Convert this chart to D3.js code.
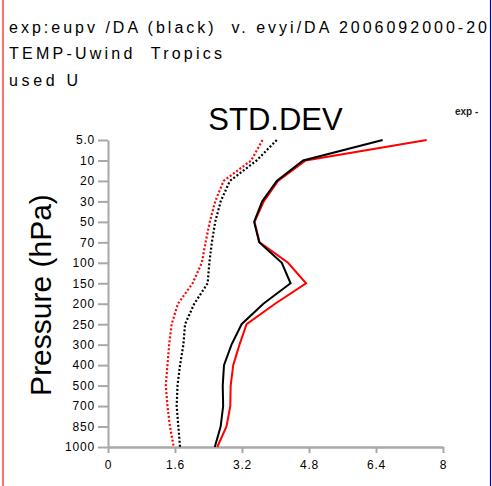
<!DOCTYPE html>
<html>
<head>
<meta charset="utf-8">
<script src="https://cdnjs.cloudflare.com/ajax/libs/d3/7.8.5/d3.min.js"></script>
<style>
  html, body { margin: 0; padding: 0; background: #fff; }
  svg { display: block; }
  text { font-family: "Liberation Sans", Arial, Helvetica, sans-serif; }
  .hdr { white-space: pre; }
</style>
</head>
<body>
<svg id="chart" width="492" height="486"></svg>
<script>
// ---- data ----
const levels = ["5.0","10","20","30","50","70","100","150","200","250","300","400","500","700","850","1000"];
const expStd   = [6.56,4.66,4.03,3.68,3.49,3.61,4.15,4.36,3.71,3.19,2.95,2.77,2.74,2.75,2.69,2.55]; // black solid
const ctlStd   = [7.61,4.72,4.06,3.72,3.50,3.62,4.30,4.73,3.99,3.31,3.14,2.99,2.93,2.92,2.83,2.61]; // red solid
const expOther = [4.03,3.55,2.91,2.69,2.56,2.48,2.42,2.38,2.06,1.84,1.80,1.72,1.66,1.64,1.68,1.72]; // black dotted
const ctlOther = [3.69,3.42,2.76,2.56,2.43,2.33,2.24,2.02,1.67,1.52,1.46,1.42,1.38,1.42,1.48,1.57]; // red dotted
const xTicks = [0, 1.6, 3.2, 4.8, 6.4, 8];
const xTickLabels = ["0", "1.6", "3.2", "4.8", "6.4", "8"];
const headerLines = ["exp:eupv /DA (black)  v. evyi/DA 2006092000-20", "TEMP-Uwind  Tropics", "used U"];

const svg = d3.select("#chart");
const W = 492, H = 486;

const x = d3.scaleLinear().domain([0, 8]).range([108, 443]);
const y = d3.scalePoint().domain(levels).range([140, 447]);

const page = svg.append("g");

// header
const hdrY = [33, 59, 86];
const hdrLen = [478, 213, 69];
headerLines.forEach((t, i) => {
  page.append("text").attr("class", "hdr").attr("x", 9).attr("y", hdrY[i])
    .attr("font-size", 16).attr("textLength", hdrLen[i]).attr("lengthAdjust", "spacing")
    .attr("fill", "#000").text(t);
});

// title
page.append("text").attr("x", 275.5).attr("y", 130).attr("text-anchor", "middle")
  .attr("font-size", 31).attr("fill", "#000").text("STD.DEV");

// legend fragment at top right
page.append("text").attr("x", 455).attr("y", 115)
  .attr("font-size", 10).attr("font-weight", "bold").attr("fill", "#222").text("exp -");

// y label
page.append("text").attr("transform", "translate(51,295) rotate(-90)")
  .attr("text-anchor", "middle").attr("font-size", 30).attr("fill", "#000").text("Pressure (hPa)");

const axisGray = "#a8a8a8";

// y axis
const yAxis = page.append("g").attr("transform", "translate(108,0)")
  .call(d3.axisLeft(y).tickSize(10).tickPadding(3).tickSizeOuter(0));
yAxis.select(".domain").attr("stroke", axisGray).attr("stroke-width", 2);
yAxis.selectAll(".tick line").attr("stroke", axisGray).attr("stroke-width", 2);
yAxis.selectAll(".tick text").attr("font-size", 12).attr("letter-spacing", 0.8)
  .attr("fill", "#000").attr("font-family", "Liberation Sans, Arial, sans-serif");

// x axis
const xAxis = page.append("g").attr("transform", "translate(0,447)")
  .call(d3.axisBottom(x).tickValues(xTicks).tickFormat((d, i) => xTickLabels[i])
        .tickSize(6).tickPadding(7).tickSizeOuter(0));
xAxis.select(".domain").attr("stroke", axisGray).attr("stroke-width", 2.5);
xAxis.selectAll(".tick line").attr("stroke", axisGray).attr("stroke-width", 2);
xAxis.selectAll(".tick text").attr("font-size", 12).attr("letter-spacing", 0.8)
  .attr("fill", "#000").attr("font-family", "Liberation Sans, Arial, sans-serif");

// lines
const line = d3.line().x(d => x(d.v)).y(d => y(d.l));
const toPts = arr => arr.map((v, i) => ({ l: levels[i], v }));

page.append("path").datum(toPts(ctlOther)).attr("d", line)
  .attr("fill", "none").attr("stroke", "#ff0000").attr("stroke-width", 2.2)
  .attr("stroke-dasharray", "2,2");
page.append("path").datum(toPts(expOther)).attr("d", line)
  .attr("fill", "none").attr("stroke", "#000").attr("stroke-width", 2.2)
  .attr("stroke-dasharray", "2,2");
page.append("path").datum(toPts(ctlStd)).attr("d", line)
  .attr("fill", "none").attr("stroke", "#ff0000").attr("stroke-width", 2);
page.append("path").datum(toPts(expStd)).attr("d", line)
  .attr("fill", "none").attr("stroke", "#000").attr("stroke-width", 2);

// frame lines
svg.append("line").attr("x1", 3).attr("x2", 3).attr("y1", 0).attr("y2", H)
  .attr("stroke", "#ff4040").attr("stroke-width", 1.5);
svg.append("line").attr("x1", 490.5).attr("x2", 490.5).attr("y1", 0).attr("y2", H)
  .attr("stroke", "#0000c0").attr("stroke-width", 1.2);
</script>
</body>
</html>
